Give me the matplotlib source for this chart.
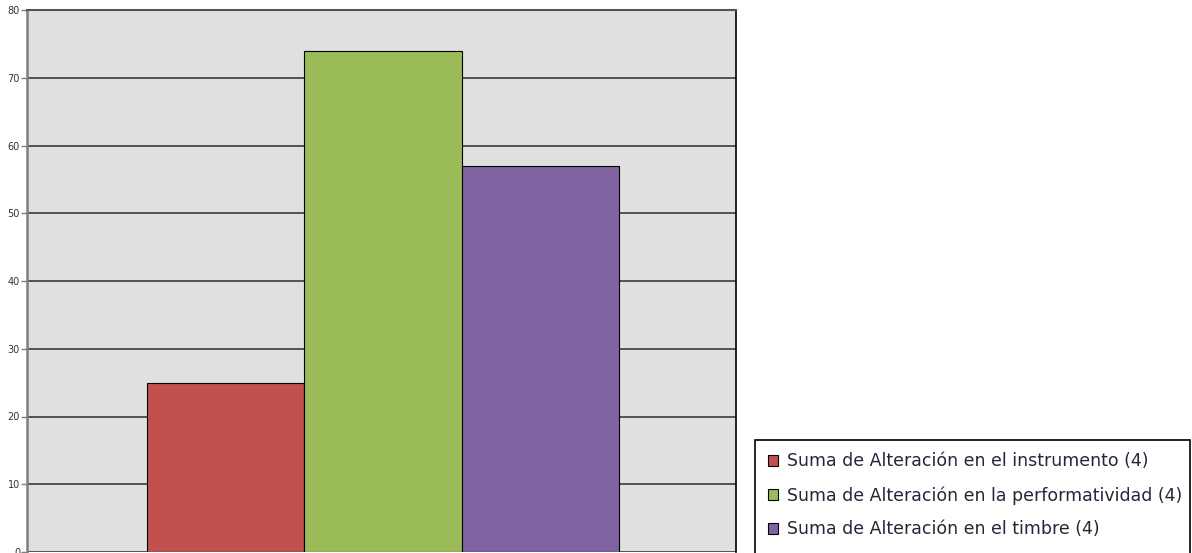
import matplotlib
matplotlib.use("Agg")
import matplotlib.pyplot as plt
from matplotlib.patches import Patch, Rectangle

# Data
series_labels = [
    "Suma de Alteración en el instrumento (4)",
    "Suma de Alteración en la performatividad (4)",
    "Suma de Alteración en el timbre (4)",
]
series_values = [25, 74, 57]
series_colors = ["#C0504D", "#9BBB59", "#8064A2"]
y_ticks = [0, 10, 20, 30, 40, 50, 60, 70, 80]

plt.rcParams["font.family"] = ["DejaVu Sans"]

W, H = 1192, 553
fig = plt.figure(figsize=(W / 100, H / 100), dpi=100)
fig.patch.set_facecolor("white")

ax = fig.add_axes([27 / W, 1 - 552 / H, (736 - 27) / W, (552 - 10) / H])
ax.set_facecolor("#E0E0E0")

positions = list(range(len(series_values)))
ax.bar(positions, series_values, width=1.0, color=series_colors,
       edgecolor="black", linewidth=0.8, zorder=3)

ax.set_xlim(-1.263, 3.243)
ax.set_ylim(0, 80)
ax.set_yticks(y_ticks)
ax.set_yticklabels([str(v) for v in y_ticks], fontsize=7, color="#333333")
ax.set_xticks([])
ax.yaxis.grid(True, color="#3A3A3A", linewidth=1.2, zorder=1)
ax.set_axisbelow(True)
ax.tick_params(axis="y", length=4, width=1, color="#808080", pad=1)

ax.spines["left"].set_color("#7F7F7F")
ax.spines["left"].set_linewidth(1.8)
ax.spines["top"].set_color("#555555")
ax.spines["top"].set_linewidth(1.5)
ax.spines["right"].set_color("black")
ax.spines["right"].set_linewidth(1.2)
ax.spines["bottom"].set_visible(False)

# Legend frame: open at the bottom edge of the figure
fig.patches.append(Rectangle((755 / W, -0.05), (1190 - 755) / W, 1 - 440 / H + 0.05,
                             transform=fig.transFigure, facecolor="white",
                             edgecolor="black", linewidth=1.2, zorder=0))

handles = [Patch(facecolor=c, edgecolor="black", linewidth=0.8) for c in series_colors]
leg = fig.legend(handles, series_labels,
                 loc="upper left",
                 bbox_to_anchor=(755 / W, 1 - 440 / H, (1190 - 755) / W, 0),
                 fontsize=12.5, frameon=False,
                 handlelength=0.6, handleheight=0.6, handletextpad=0.5,
                 labelspacing=0.9, borderpad=0.72, borderaxespad=0)
for t in leg.get_texts():
    t.set_color("#26263A")

fig.savefig("out.png", dpi=100, facecolor="white")
